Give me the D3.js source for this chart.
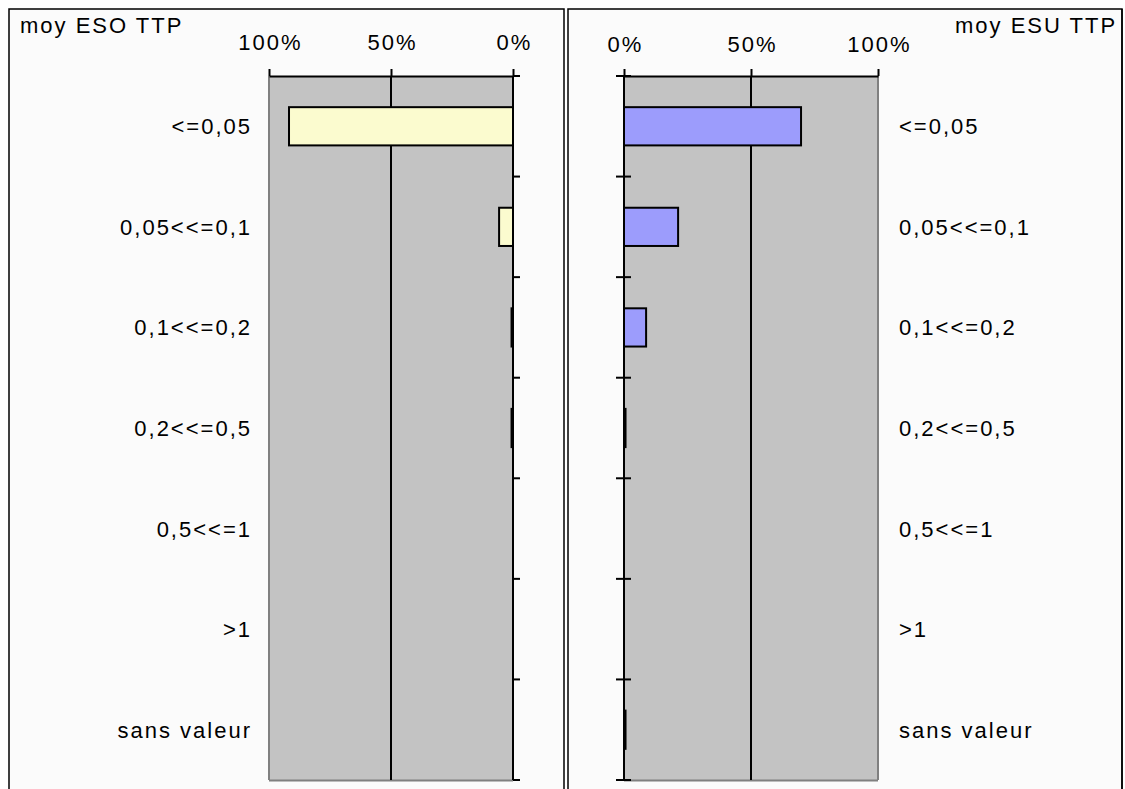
<!DOCTYPE html>
<html>
<head>
<meta charset="utf-8">
<script src="https://cdn.jsdelivr.net/npm/d3@7"></script>
<style>
  html, body { margin: 0; padding: 0; background: #ffffff; }
  svg { display: block; }
  text { font-family: "Liberation Sans", Arial, sans-serif; font-size: 22px; letter-spacing: 2px; fill: #000; }
</style>
</head>
<body>
<svg id="chart" width="1125" height="789"></svg>
<script>
// ---- data ----
const categories = ["<=0,05", "0,05<<=0,1", "0,1<<=0,2", "0,2<<=0,5", "0,5<<=1", ">1", "sans valeur"];
const esoValues = [0.918, 0.057, 0.006, 0.006, 0, 0, 0];      // moy ESO TTP (left)
const esuValues = [0.697, 0.213, 0.087, 0.006, 0, 0, 0.006];  // moy ESU TTP (right)
const tickValues = [0, 0.5, 1];
const titles = ["moy ESO TTP", "moy ESU TTP"];

const svg = d3.select("#chart");
const W = 1125, H = 789;
const plotTop = 76, plotBottom = 780;
const gray = "#c3c3c3", panelBg = "#fbfbfb", borderGray = "#808080";
const fmt = d3.format(".0%");

// panels
svg.append("rect").attr("x", 0).attr("y", 0).attr("width", W).attr("height", H).attr("fill", "#ffffff");
svg.append("rect").attr("x", 9).attr("y", 9).attr("width", 555).attr("height", 800)
  .attr("fill", panelBg).attr("stroke", "#000").attr("stroke-width", 1.5);
svg.append("rect").attr("x", 568).attr("y", 9).attr("width", 554).attr("height", 800)
  .attr("fill", panelBg).attr("stroke", "#000").attr("stroke-width", 1.5);

const y = d3.scaleBand().domain(categories).range([plotTop, plotBottom])
  .paddingInner(0.6).paddingOuter(0.3);
const yIdx = d3.scaleLinear().domain([0, categories.length]).range([plotTop, plotBottom]);
const boundaries = d3.range(categories.length + 1);

function drawPanel(opts) {
  const { x, values, fill, side, title, titleX, labelX, labelAnchor, tickLabelY, clip } = opts;
  const g = svg.append("g");
  const x0 = x(0), x1 = x(1);
  const left = Math.min(x0, x1), right = Math.max(x0, x1);

  // plot area
  g.append("rect").attr("x", left).attr("y", plotTop).attr("width", right - left)
    .attr("height", plotBottom - plotTop).attr("fill", gray);
  // gray plot borders (outer 100% edge and bottom)
  g.append("line").attr("x1", x1).attr("x2", x1).attr("y1", plotTop).attr("y2", plotBottom)
    .attr("stroke", borderGray).attr("stroke-width", 2);
  g.append("line").attr("x1", left).attr("x2", right).attr("y1", plotBottom + 0.5).attr("y2", plotBottom + 0.5)
    .attr("stroke", borderGray).attr("stroke-width", 2);

  // 50% gridline
  g.selectAll(".grid").data(tickValues.filter(t => t > 0 && t < 1)).join("line")
    .attr("x1", d => x(d)).attr("x2", d => x(d)).attr("y1", plotTop).attr("y2", plotBottom)
    .attr("stroke", "#000").attr("stroke-width", 2);

  // bars
  g.selectAll(".bar").data(values.map((v, i) => ({ v, c: categories[i] })).filter(d => d.v > 0)).join("rect")
    .attr("x", d => Math.min(x(0), x(d.v)))
    .attr("y", d => y(d.c) + 1)
    .attr("width", d => Math.abs(x(d.v) - x(0)))
    .attr("height", y.bandwidth() - 2)
    .attr("fill", fill).attr("stroke", "#000").attr("stroke-width", 2);

  // category axis (at 0%)
  g.append("line").attr("x1", x0).attr("x2", x0).attr("y1", plotTop).attr("y2", plotBottom)
    .attr("stroke", "#000").attr("stroke-width", 2);
  g.selectAll(".ctick").data(boundaries).join("line")
    .attr("x1", side === "left" ? x0 : x0 - 8)
    .attr("x2", x0 + 7)
    .attr("y1", d => yIdx(d)).attr("y2", d => yIdx(d))
    .attr("stroke", "#000").attr("stroke-width", 2);

  // value axis on top
  const axis = d3.axisTop(x).tickValues(tickValues).tickFormat(fmt).tickSize(7).tickSizeOuter(0);
  const ag = g.append("g").attr("transform", `translate(0,${plotTop})`).call(axis);
  ag.select(".domain").attr("stroke", "#000").attr("stroke-width", 2);
  ag.selectAll(".tick line").attr("stroke", "#000").attr("stroke-width", 2);
  ag.selectAll(".tick text").attr("font-size", null).attr("font-family", null)
    .attr("y", tickLabelY - plotTop).attr("dy", null).attr("dx", 1)
    .style("font-size", "22px").style("letter-spacing", "2px");

  // category labels
  g.selectAll(".clabel").data(categories).join("text")
    .attr("x", labelX).attr("y", d => y(d) + y.bandwidth() / 2 + 8)
    .attr("text-anchor", labelAnchor).text(d => d);

  // title
  const t = g.append("text").attr("x", titleX).attr("y", 33).text(title);
  if (clip) t.attr("clip-path", `url(#${clip})`);
}

// clip for right title (cut by border)
svg.append("defs").append("clipPath").attr("id", "rclip")
  .append("rect").attr("x", 568).attr("y", 9).attr("width", 553).attr("height", 800);

drawPanel({
  x: d3.scaleLinear().domain([0, 1]).range([513, 269]),
  values: esoValues, fill: "#fbfbcf", side: "left", title: titles[0], titleX: 20,
  labelX: 252, labelAnchor: "end", tickLabelY: 50
});

drawPanel({
  x: d3.scaleLinear().domain([0, 1]).range([624, 878]),
  values: esuValues, fill: "#9c9cfc", side: "right", title: titles[1], titleX: 955,
  labelX: 899, labelAnchor: "start", tickLabelY: 52, clip: "rclip"
});
// redraw right border over clipped title
svg.append("line").attr("x1", 1122).attr("x2", 1122).attr("y1", 9).attr("y2", 789)
  .attr("stroke", "#000").attr("stroke-width", 1.5);
</script>
</body>
</html>
